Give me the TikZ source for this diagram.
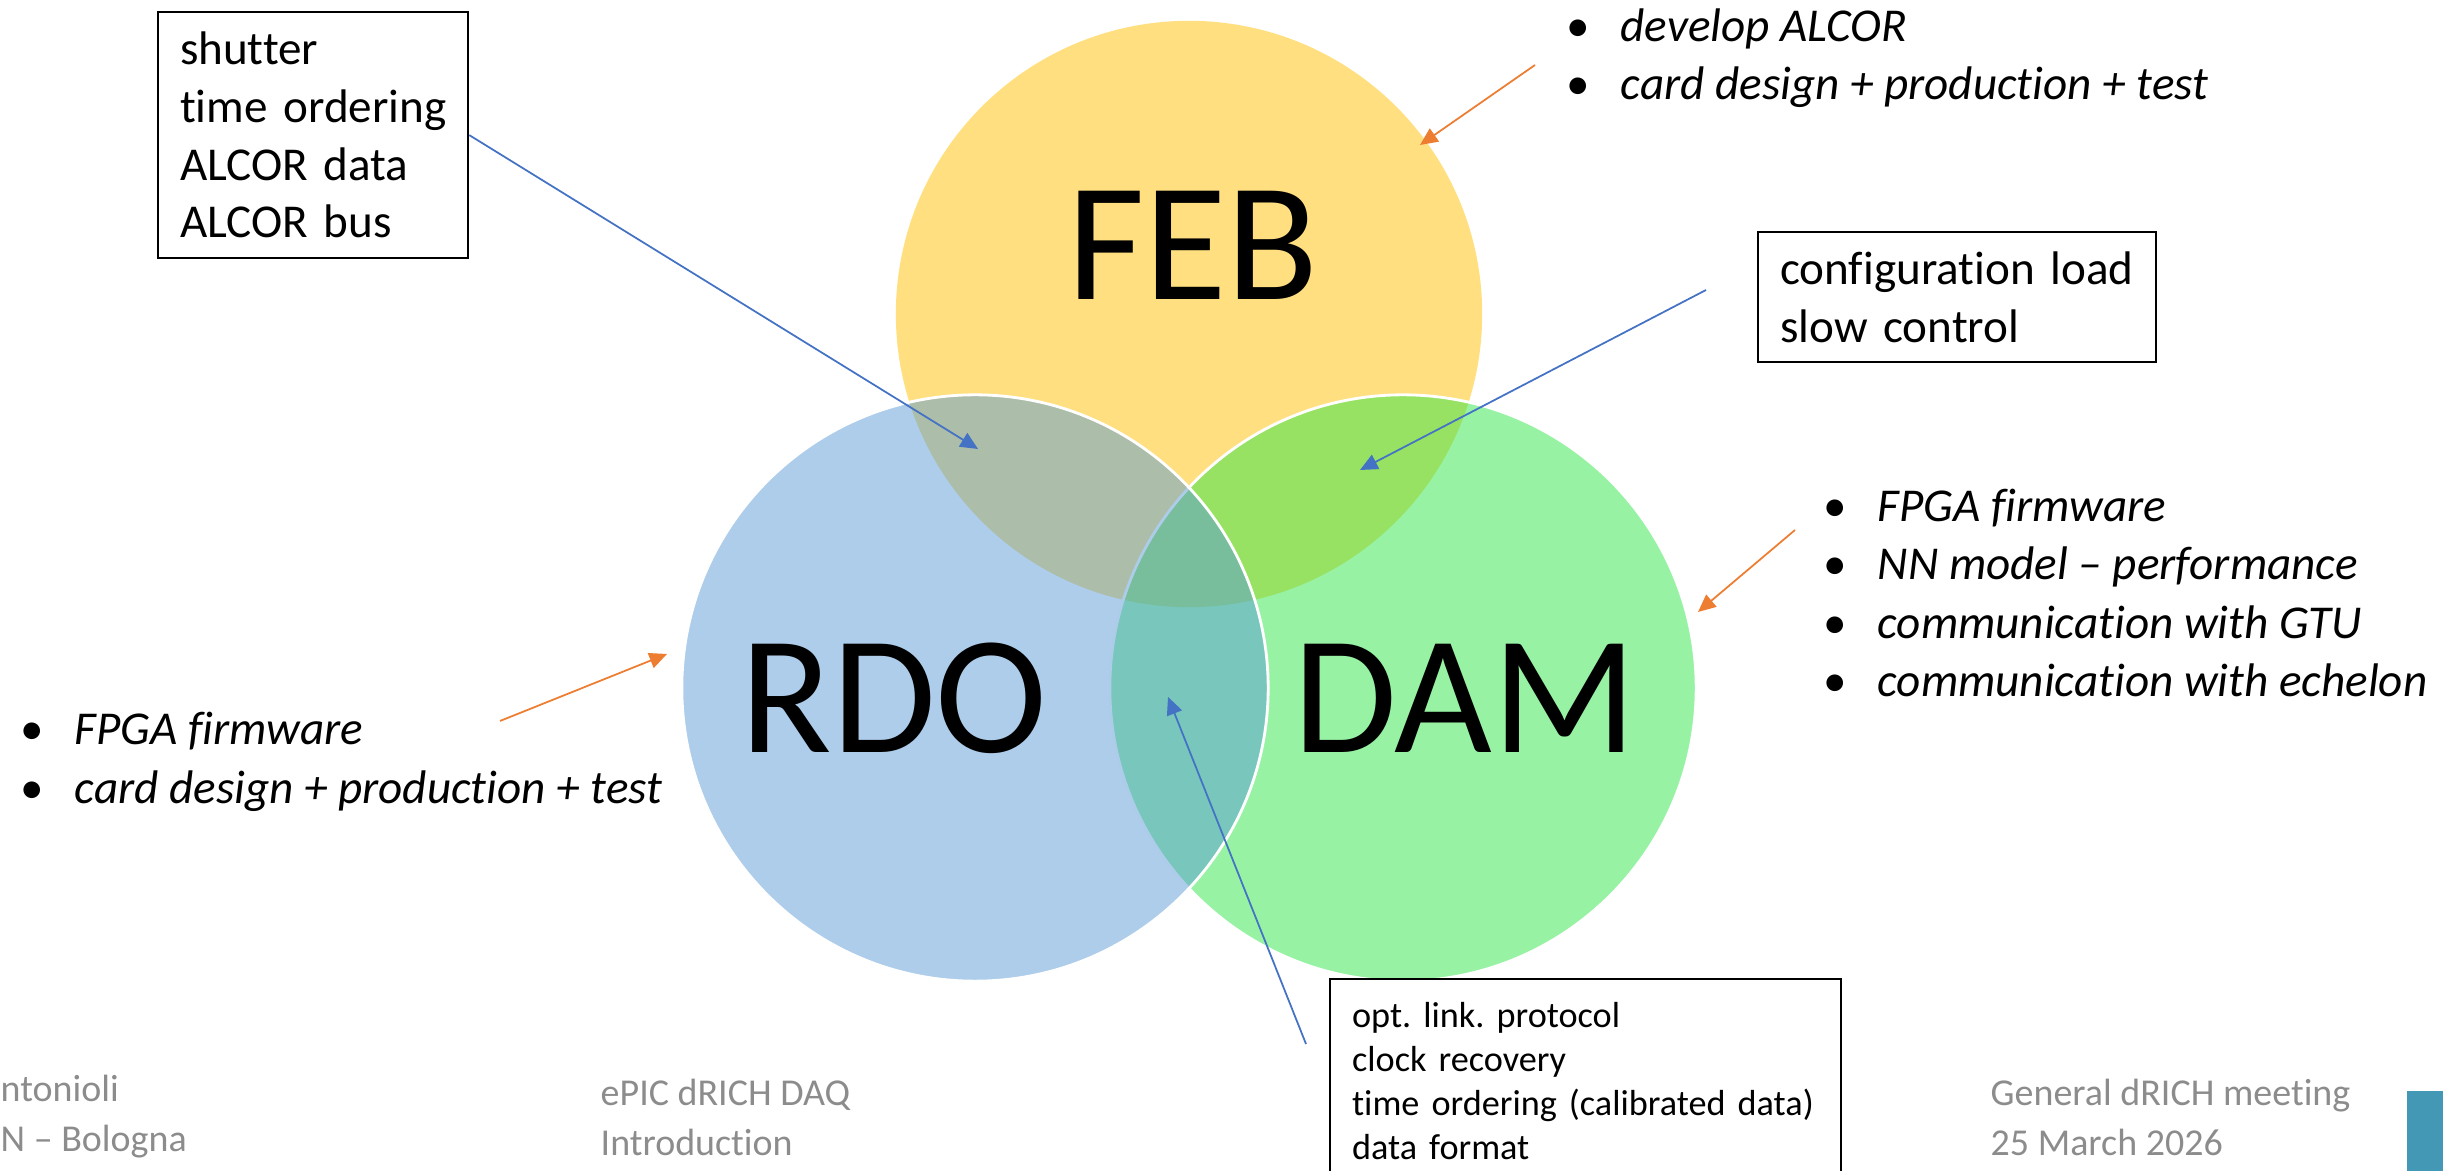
\documentclass[tikz,border=0pt]{standalone}
\usepackage{fontspec}
\setmainfont{Carlito}[Ligatures=NoCommon, Contextuals=NoAlternate]
\usetikzlibrary{arrows.meta}

\definecolor{febyellow}{HTML}{FFC000}
\definecolor{rdoblue}{HTML}{5B9BD5}
\definecolor{damgreen}{HTML}{31E549}
\definecolor{arrorange}{HTML}{ED7D31}
\definecolor{arrblue}{HTML}{4472C4}
\definecolor{footgray}{HTML}{8C8C8C}
\definecolor{barteal}{HTML}{4298B5}

\newcommand{\bul}[1]{\makebox[0.54cm][l]{•}\textit{#1}}
\frenchspacing

\begin{document}
\begin{tikzpicture}[x=0.01cm, y=-0.01cm]
\tikzstyle{every node} = [inner sep=0pt]
\tikzstyle{set} = [circle, minimum size=5.86cm, fill opacity=0.5, draw=white, line width=0.8pt]
\tikzstyle{big} = [font=\fontsize{48}{58}\selectfont]
\tikzstyle{box} = [draw, line width=0.6pt, anchor=north west, align=left, inner xsep=0.22cm]
\tikzstyle{bullets} = [anchor=west, align=left, font=\fontsize{13.4}{16.6}\selectfont]
\tikzstyle{foot} = [anchor=west, align=left, text=footgray, font=\fontsize{10.8}{14.2}\selectfont]
\tikzstyle{pnt} = [-{Triangle[length=5pt,width=4.5pt]}, line width=0.5pt]
\useasboundingbox (0,0) rectangle (2443,1171);

% the three sets
\node[set, fill=febyellow, draw=none] (feb) at (1189,314) {};
\node[set, fill=damgreen] (dam) at (1403,688) {};
\node[set, fill=rdoblue] (rdo) at (975,688) {};
\node[big] (feblabel) at (1193,245) {FEB};
\node[big] (rdolabel) at (894,698) {RDO};
\node[big] (damlabel) at (1465,698) {DAM};

% shared tasks
\node[box, text width=2.66cm, minimum height=2.46cm, font=\fontsize{13.4}{16.4}\selectfont] (febrdo) at (157,11)
  {shutter\\\mbox{time ordering}\\ALCOR data\\ALCOR bus};
\node[box, text width=3.54cm, minimum height=1.30cm, font=\fontsize{13.4}{16.4}\selectfont] (febdam) at (1757,231)
  {configuration load\\slow control};
\node[box, text width=4.67cm, minimum height=2.04cm, font=\fontsize{10.3}{12.5}\selectfont] (rdodam) at (1329,978)
  {opt. link. protocol\\clock recovery\\time ordering (calibrated data)\\data format};

% own tasks
\node[bullets] (febtasks) at (1566,58) {\bul{develop ALCOR}\\\bul{card design + production + test}};
\node[bullets] (damtasks) at (1823,593) {\bul{FPGA firmware}\\\bul{NN model -- performance}\\\bul{communication with GTU}\\\bul{communication with echelon}};
\node[bullets] (rdotasks) at (20,762) {\bul{FPGA firmware}\\\bul{card design + production + test}};

\coordinate (frtip) at (978,449);
\coordinate (fdtail) at (1706,290);
\coordinate (fdtip) at (1360,470);
\coordinate (rdtail) at (1306,1044);
\coordinate (rdtip) at (1168,697);
\draw[pnt, arrblue] (febrdo.east) -- (frtip);
\draw[pnt, arrblue] (fdtail) -- (fdtip);
\draw[pnt, arrblue] (rdtail) -- (rdtip);

\coordinate (febtail) at (1535,65);
\coordinate (febtip) at (1420,145);
\coordinate (damtail) at (1795,530);
\coordinate (damtip) at (1698,612);
\coordinate (rdotail) at (500,721);
\coordinate (rdotip) at (667,654);
\draw[pnt, arrorange] (febtail) -- (febtip);
\draw[pnt, arrorange] (damtail) -- (damtip);
\draw[pnt, arrorange] (rdotail) -- (rdotip);

% footer
\node[foot] (author) at (0,1117) {ntonioli\\N -- Bologna};
\node[foot] (title) at (600,1117) {ePIC dRICH DAQ\\Introduction};
\node[foot] (meeting) at (1990,1117) {General dRICH meeting\\25 March 2026};
\fill[barteal] (2407,1091) rectangle (2443,1171);
\end{tikzpicture}
\end{document}
